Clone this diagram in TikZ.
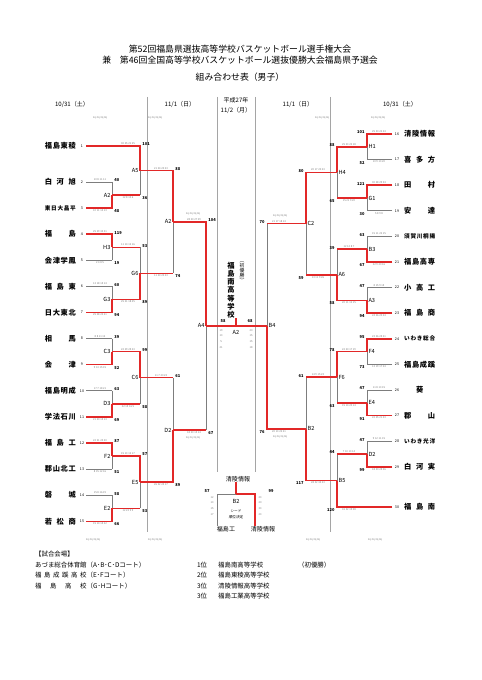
\documentclass[tikz,border=0pt]{standalone}
\usepackage{fontspec}
\setmainfont{Noto Sans CJK JP}
\usetikzlibrary{calc}

\newlength{\pxu}
\setlength{\pxu}{0.4366mm}

\definecolor{winred}{RGB}{226,40,40}
\definecolor{linegray}{RGB}{125,125,125}
\definecolor{rulegray}{RGB}{165,165,165}

% spread the letters of a name over a fixed width
\def\sprA#1#2{#1\ifx\relax#2\else\hfill\expandafter\sprA\expandafter#2\fi}
\newcommand{\spr}[2]{\makebox[#1][s]{\sprA#2\relax}}
\newcommand{\tn}[1]{\spr{31\pxu}{#1}}
\newcommand{\tns}[1]{{\fontsize{7}{7}\selectfont\spr{31\pxu}{#1}}}
\newcommand{\tnc}[1]{\makebox[31\pxu][c]{#1}}

\begin{document}
\begin{tikzpicture}[
    x=0.4366mm, y=-0.4366mm,
    win/.style={draw=winred, line width=1.8pt},
    loss/.style={draw=linegray, line width=0.8pt},
    rule/.style={draw=rulegray, line width=0.9pt},
    title/.style={font=\fontsize{11}{11}\selectfont, inner sep=0},
    head/.style={font=\fontsize{7.5}{7.5}\selectfont, inner sep=0},
    team/.style={font=\fontsize{9}{9}\selectfont\bfseries, inner sep=0},
    tnum/.style={font=\fontsize{4.5}{4.5}\selectfont, inner sep=0},
    gname/.style={font=\fontsize{7}{7}\selectfont, inner sep=0.5pt},
    score/.style={font=\fontsize{5}{5}\selectfont\bfseries, inner sep=0.3pt},
    qtr/.style={font=\fontsize{3.3}{3.3}\selectfont, text=black!50, inner sep=0.3pt},
    qcol/.style={qtr, align=center, font=\fontsize{3.3}{7}\selectfont},
    foot/.style={font=\fontsize{8}{8}\selectfont, inner sep=0, anchor=west}
]
    \fill[white] (0,0) rectangle (481,680);
    \useasboundingbox (0,0) rectangle (481,680);

    % Title
    \node[title] (title1) at (240,49) {第52回福島県選抜高等学校バスケットボール選手権大会};
    \node[title] (title2) at (240,60) {兼\hspace{1em}第46回全国高等学校バスケットボール選抜優勝大会福島県予選会};
    \node[title] (title3) at (240,77) {組み合わせ表（男子）};

    % Day headers
    \node[head] (day1l) at (72,104) {10/31（土）};
    \node[head] (day2l) at (180,104) {11/1（日）};
    \node[head] (year) at (236,100) {平成27年};
    \node[head] (day3) at (236,110) {11/2（月）};
    \node[head] (day2r) at (298,104) {11/1（日）};
    \node[head] (day1r) at (400,104) {10/31（土）};
    \foreach \xx [count=\i] in {100,155,322,378}
        \node[qtr] (qtop\i) at (\xx,118) {1q 2q 3q 4q};
    \foreach \xx [count=\i] in {93,155,313,375}
        \node[qtr] (qbot\i) at (\xx,540) {1q 2q 3q 4q};

    % Column rules
    \draw[rule] (147,97) -- (147,532);
    \draw[rule] (330,97) -- (330,532);
    \draw[rule] (217,97) -- (217,472);
    \draw[rule] (255,97) -- (255,472);

    % Team line ends
    \coordinate (t1) at (86,146);
    \foreach \tk in {2,...,15}
        \coordinate (t\tk) at (86,{182+(\tk-2)*26.1});
    \foreach \tk in {16,...,29}
        \coordinate (t\tk) at (392,{134+(\tk-16)*25.6});
    \coordinate (t30) at (392,507);

    % Games (left)
    \coordinate (gA2) at (112,195.05);
    \coordinate (gH3) at (112,247.25);
    \coordinate (gG3) at (112,299.45);
    \coordinate (gC3) at (112,351.65);
    \coordinate (gD3) at (112,403.85);
    \coordinate (gF2) at (112,456.05);
    \coordinate (gE2) at (112,508.25);
    \coordinate (gA5) at (140,170.5);
    \coordinate (gG6) at (140,273.35);
    \coordinate (gC6) at (140,377.75);
    \coordinate (gE5) at (140,482.15);
    \coordinate (gA2b) at (173,221.9);
    \coordinate (gD2) at (173,429.95);
    \coordinate (gA4) at (206,325.9);
    % Games (right)
    \coordinate (gH1) at (367,146.8);
    \coordinate (gG1) at (367,198);
    \coordinate (gB3) at (367,249.2);
    \coordinate (gA3) at (367,300.4);
    \coordinate (gF4) at (367,351.6);
    \coordinate (gE4) at (367,402.8);
    \coordinate (gD2r) at (367,454);
    \coordinate (gH4) at (337,172.4);
    \coordinate (gA6) at (337,274.8);
    \coordinate (gF6) at (337,377.2);
    \coordinate (gB5) at (337,480.5);
    \coordinate (gC2) at (306,223.6);
    \coordinate (gB2) at (306,428.85);
    \coordinate (gB4) at (267,325.9);

    % Bracket lines
    \foreach \gm/\ea/\eb/\ca/\cb/\wn in {
        gA2/t2/t3/loss/win/t3, gH3/t4/t5/win/loss/t4, gG3/t6/t7/loss/win/t7,
        gC3/t8/t9/loss/win/t9, gD3/t10/t11/loss/win/t11, gF2/t12/t13/win/loss/t12,
        gE2/t14/t15/loss/win/t15,
        gA5/t1/gA2/win/win/t1, gG6/gH3/gG3/win/win/gG3, gC6/gC3/gD3/win/win/gC3,
        gE5/gF2/gE2/win/win/gF2, gA2b/gA5/gG6/win/win/gA5, gD2/gC6/gE5/win/win/gE5,
        gA4/gA2b/gD2/win/win/gA2b,
        gH1/t16/t17/win/loss/t16, gG1/t18/t19/win/loss/t18, gB3/t20/t21/loss/win/t21,
        gA3/t22/t23/loss/win/t23, gF4/t24/t25/win/loss/t24, gE4/t26/t27/loss/win/t27,
        gD2r/t28/t29/loss/win/t29,
        gH4/gH1/gG1/win/win/gH1, gA6/gB3/gA3/win/win/gA3, gF6/gF4/gE4/win/win/gF4,
        gB5/gD2r/t30/win/win/t30, gC2/gH4/gA6/win/win/gH4, gB2/gF6/gB5/win/win/gB5,
        gB4/gC2/gB2/win/win/gB2}{
        \draw[loss] (\ea -| \gm) -- (\eb -| \gm);
        \draw[\ca] (\ea) -- (\ea -| \gm);
        \draw[\cb] (\eb) -- (\eb -| \gm);
        \draw[win] (\wn) -- (\wn -| \gm) -- (\gm);
    }
    \draw[win] (gA4) -- (gB4);

    % Game names
    \foreach \gm/\lab in {gA2/A2, gH3/H3, gG3/G3, gC3/C3, gD3/D3, gF2/F2, gE2/E2,
        gA5/A5, gG6/G6, gC6/C6, gE5/E5, gA2b/A2, gD2/D2, gA4/A4}
        \node[gname, anchor=east] (n\gm) at ($(\gm)+(-1,0)$) {\lab};
    \foreach \gm/\lab in {gH1/H1, gG1/G1, gB3/B3, gA3/A3, gF4/F4, gE4/E4, gD2r/D2,
        gH4/H4, gA6/A6, gF6/F6, gB5/B5, gC2/C2, gB2/B2, gB4/B4}
        \node[gname, anchor=west] (n\gm) at ($(\gm)+(1,0)$) {\lab};

    % Scores (left)
    \foreach \gm/\ea/\eb/\pa/\pb/\qa/\qb in {
        gA2/t2/t3/40/48/{10 8 11 11}/{10 11 14 13},
        gH3/t4/t5/119/19/{25 29 34 31}/{2 4 8 5},
        gG3/t6/t7/60/94/{13 18 15 14}/{25 28 20 21},
        gC3/t8/t9/39/52/{8 8 11 12}/{9 13 15 15},
        gD3/t10/t11/63/69/{17 7 18 21}/{21 20 15 13},
        gF2/t12/t13/87/51/{22 21 24 20}/{8 15 12 16},
        gE2/t14/t15/58/66/{15 8 16 19}/{15 14 15 22},
        gA5/t1/gA2/101/36/{30 25 21 25}/{12 8 10 6},
        gG6/gH3/gG3/53/89/{11 14 12 16}/{25 21 18 25},
        gC6/gC3/gD3/99/58/{22 29 25 23}/{22 15 16 5},
        gE5/gF2/gE2/57/53/{15 13 12 17}/{12 23 9 9},
        gA2b/gA5/gG6/88/74/{21 24 20 23}/{11 20 20 23},
        gD2/gC6/gE5/61/89/{11 7 20 23}/{26 22 24 17},
        gA4/gA2b/gD2/104/67/{28 20 27 29}/{18 20 15 14}}{
        \node[score, anchor=west] (sa\gm) at ($(\ea -| \gm)+(2,-1.5)$) {\pa};
        \node[score, anchor=west] (sb\gm) at ($(\eb -| \gm)+(2,3)$) {\pb};
        \node[qtr, anchor=south] (qa\gm) at ($(\ea -| \gm)+(-12,-1)$) {\qa};
        \node[qtr, anchor=north] (qb\gm) at ($(\eb -| \gm)+(-12,1)$) {\qb};
    }
    % Scores (right)
    \foreach \gm/\ea/\eb/\pa/\pb/\qa/\qb in {
        gH1/t16/t17/101/52/{25 30 22 24}/{10 9 13 20},
        gG1/t18/t19/121/30/{30 28 29 34}/{5 8 9 8},
        gB3/t20/t21/63/67/{15 11 22 15}/{22 9 20 16},
        gA3/t22/t23/47/94/{8 15 9 15}/{24 26 20 24},
        gF4/t24/t25/95/73/{23 26 25 21}/{13 19 17 24},
        gE4/t26/t27/47/91/{11 8 13 15}/{22 25 21 23},
        gD2r/t28/t29/47/99/{9 12 11 15}/{18 30 25 26},
        gH4/gH1/gG1/88/65/{25 23 22 18}/{15 21 9 20},
        gA6/gB3/gA3/39/58/{12 12 8 7}/{20 11 12 15},
        gF6/gF4/gE4/78/63/{22 20 17 19}/{15 14 20 14},
        gB5/gD2r/t30/44/120/{7 10 13 14}/{41 32 19 28},
        gC2/gH4/gA6/80/59/{20 17 20 23}/{13 11 9 26},
        gB2/gF6/gB5/61/117/{14 9 15 23}/{28 32 34 23},
        gB4/gC2/gB2/70/76/{21 17 18 14}/{20 13 22 21}}{
        \node[score, anchor=east] (sa\gm) at ($(\ea -| \gm)+(-2,-1.5)$) {\pa};
        \node[score, anchor=east] (sb\gm) at ($(\eb -| \gm)+(-2,3)$) {\pb};
        \node[qtr, anchor=south] (qa\gm) at ($(\ea -| \gm)+(12,-1)$) {\qa};
        \node[qtr, anchor=north] (qb\gm) at ($(\eb -| \gm)+(12,1)$) {\qb};
    }
    \node[qtr] (qhA4a) at ($(gA2b -| gA4)+(-13,-8)$) {1q 2q 3q 4q};
    \node[qtr] (qhA4b) at ($(gD2 -| gA4)+(-13,8)$) {1q 2q 3q 4q};
    \node[qtr] (qhB4a) at ($(gC2 -| gB4)+(13,-8)$) {1q 2q 3q 4q};
    \node[qtr] (qhB4b) at ($(gB2 -| gB4)+(13,8)$) {1q 2q 3q 4q};

    % Teams
    \foreach \tk/\nm in {1/{\tn{福島東稜}}, 2/{\tn{白河旭}}, 3/{\tns{東日大昌平}},
        4/{\tn{福島}}, 5/{\tn{会津学鳳}}, 6/{\tn{福島東}}, 7/{\tn{日大東北}},
        8/{\tn{相馬}}, 9/{\tn{会津}}, 10/{\tn{福島明成}}, 11/{\tn{学法石川}},
        12/{\tn{福島工}}, 13/{\tn{郡山北工}}, 14/{\tn{磐城}}, 15/{\tn{若松商}}}{
        \node[team, anchor=east] (name\tk) at ($(t\tk)+(-10,0)$) {\nm};
        \node[tnum] (num\tk) at ($(t\tk)+(-4,0)$) {\tk};
    }
    \foreach \tk/\nm in {16/{\tn{清陵情報}}, 17/{\tn{喜多方}}, 18/{\tn{田村}},
        19/{\tn{安達}}, 20/{\tns{須賀川桐陽}}, 21/{\tn{福島高専}}, 22/{\tn{小高工}},
        23/{\tn{福島商}}, 24/{\tns{いわき総合}}, 25/{\tn{福島成蹊}}, 26/{\tnc{葵}},
        27/{\tn{郡山}}, 28/{\tns{いわき光洋}}, 29/{\tn{白河実}}, 30/{\tn{福島南}}}{
        \node[team, anchor=west] (name\tk) at ($(t\tk)+(12,0)$) {\nm};
        \node[tnum] (num\tk) at ($(t\tk)+(5,0)$) {\tk};
    }

    % Final
    \coordinate (fmid) at (236,325.9);
    \node[team, align=center, font=\fontsize{9}{10}\selectfont\bfseries, anchor=south] (champ) at (231,318) {福\\島\\南\\高\\等\\学\\校};
    \node[align=center, inner sep=0, font=\fontsize{6}{6.5}\selectfont, anchor=north] (champnote) at (242,261) {︵\\初\\優\\勝\\︶};
    \draw[win] (fmid) -- (fmid |- champ.south);
    \node[score] (fsl) at (223,321) {58};
    \node[score] (fsr) at (250,321) {68};
    \node[gname] (fgame) at (236,332) {A2};
    \node[qcol, anchor=north] (fql) at (221,329) {19\\13\\5\\21};
    \node[qcol, anchor=north] (fqr) at (251,329) {20\\15\\15\\18};

    % Seed decision
    \node[head] (third) at (238,479) {清陵情報};
    \coordinate (tpm) at (236,494);
    \coordinate (tpl) at (217,494);
    \coordinate (tpr) at (255,494);
    \node[head] (tpln) at (226,529) {福島工};
    \node[head] (tprn) at (263,529) {清陵情報};
    \draw[loss] (tpln.north -| tpl) -- (tpl) -- (tpm);
    \draw[win] (tpm) -- (tpr) -- (tprn.north -| tpr);
    \draw[win] (tpm) -- (tpm |- third.south);
    \node[gname] (tpgame) at (236,501) {B2};
    \node[tnum] (tpseed) at (236,511) {シード};
    \node[tnum] (tpdec) at (236,517) {順位決定};
    \node[score] (tpsl) at (207,491) {57};
    \node[score] (tpsr) at (271,491) {99};
    \node[qcol, anchor=north] (tpql) at (212,496) {12\\13\\15\\17};
    \node[qcol, anchor=north] (tpqr) at (260,496) {23\\20\\33\\23};

    % Venues and results
    \node[foot] (venue0) at (35,554) {【試合会場】};
    \node[foot] (venue1) at (35,565) {あづま総合体育館（A･B･C･Dコート）};
    \node[foot] (venue2) at (35,575.5) {\spr{8em}{福島成蹊高校}（E･Fコート）};
    \node[foot] (venue3) at (35,586) {\spr{8em}{福島高校}（G･Hコート）};
    \node[foot] (rank1) at (197,565) {1位};
    \node[foot] (rank2) at (197,575.5) {2位};
    \node[foot] (rank3) at (197,586) {3位};
    \node[foot] (rank4) at (197,596.5) {3位};
    \node[foot] (school1) at (218,565) {福島南高等学校};
    \node[foot] (school2) at (218,575.5) {福島東稜高等学校};
    \node[foot] (school3) at (218,586) {清陵情報高等学校};
    \node[foot] (school4) at (218,596.5) {福島工業高等学校};
    \node[foot] (firstwin) at (298,565) {（初優勝）};
\end{tikzpicture}
\end{document}
